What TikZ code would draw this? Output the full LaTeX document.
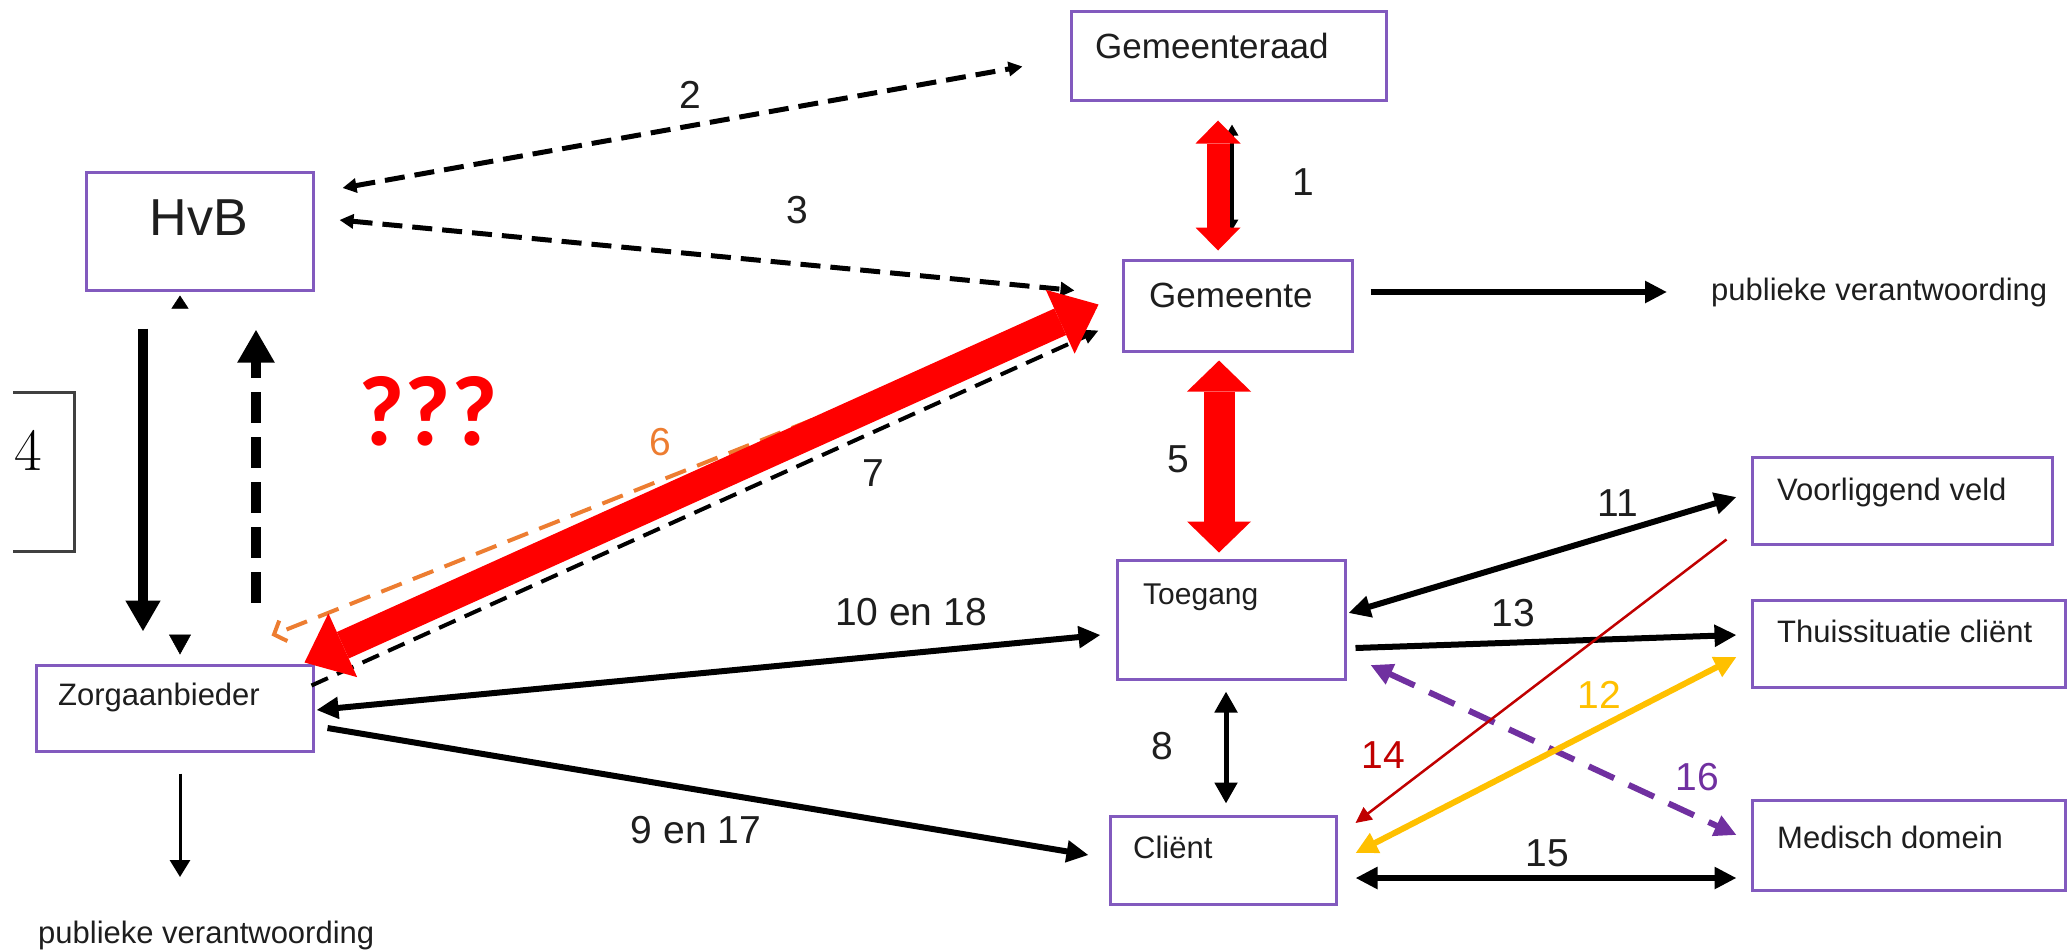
\documentclass[tikz,border=0pt]{standalone}
\usepackage{fontspec}
\usetikzlibrary{arrows.meta,calc}
\newfontfamily\arialf{Liberation Sans}
\newfontfamily\carl{Carlito}
\definecolor{boxc}{RGB}{130,90,190}
\definecolor{txtc}{RGB}{30,30,30}
\definecolor{orng}{RGB}{237,125,49}
\definecolor{ylw}{RGB}{255,192,0}
\definecolor{purp}{RGB}{112,48,160}
\definecolor{dred}{RGB}{192,0,0}
\definecolor{grayb}{RGB}{64,64,64}
\begin{document}
\begin{tikzpicture}[x=1pt,y=-1pt,
 box/.style={draw=boxc,line width=3pt,inner sep=0pt},
 lab/.style={font=\arialf\fontsize{31}{36}\selectfont,inner sep=0pt,anchor=base west,text=txtc},
 bigl/.style={font=\arialf\fontsize{35}{40}\selectfont},
 num/.style={font=\arialf\fontsize{39}{44}\selectfont,inner sep=0pt,text=txtc},
 one/.style={line width=6pt,-{Triangle[length=22pt,width=21pt]}},
 two/.style={line width=6pt,{Triangle[length=22pt,width=21pt]}-{Triangle[length=22pt,width=21pt]}},
 dsh/.style={line width=5pt,dash pattern=on 20pt off 10pt,{Triangle[length=14pt,width=14pt]}-{Triangle[length=14pt,width=14pt]}},
]
\useasboundingbox (0,0) rectangle (2068,951);

% boxes
\node[box,minimum width=315pt,minimum height=89pt] (graad) at (1228.5,55.5) {};
\node[box,minimum width=229pt,minimum height=91pt] (gem) at (1237.5,305.5) {};
\node[box,minimum width=227pt,minimum height=118pt] (hvb) at (199.5,231) {};
\node[box,minimum width=277pt,minimum height=86pt] (zorg) at (174.5,708) {};
\node[box,minimum width=228pt,minimum height=119pt] (toeg) at (1231,619.5) {};
\node[box,minimum width=226pt,minimum height=88pt] (client) at (1223,860) {};
\node[box,minimum width=300pt,minimum height=87pt] (voor) at (1902,500.5) {};
\node[box,minimum width=313pt,minimum height=87pt] (thuis) at (1908.5,643.5) {};
\node[box,minimum width=313pt,minimum height=90pt] (med) at (1908.5,845) {};

% box texts
\node[lab,bigl] (tgraad) at (1095,58) {Gemeenteraad};
\node[lab,bigl] (tgem) at (1149,307) {Gemeente};
\node[lab,font=\arialf\fontsize{52}{56}\selectfont,anchor=base] (thvb) at (199,235) {HvB};
\node[lab] (tzorg) at (58,705) {Zorgaanbieder};
\node[lab,font=\arialf\fontsize{30}{34}\selectfont] (ttoeg) at (1143,604) {Toegang};
\node[lab] (tclient) at (1133,858) {Cliënt};
\node[lab] (tvoor) at (1777,500) {Voorliggend veld};
\node[lab] (tthuis) at (1777,642) {Thuissituatie cliënt};
\node[lab] (tmed) at (1777,848) {Medisch domein};
\node[lab] (pv1) at (1711,300) {publieke verantwoording};
\node[lab] (pv2) at (38,943) {publieke verantwoording};

% numbers
\node[num] (n1) at (1303,182) {1};
\node[num] (n2) at (690,95) {2};
\node[num] (n3) at (797,210) {3};
\node[num] (n5) at (1178,459) {5};
\node[num,text=orng] (n6) at (660,442) {6};
\node[num] (n7) at (873,473) {7};
\node[num] (n8) at (1162,746) {8};
\node[num] (n917) at (696,830) {9 en 17};
\node[num] (n1018) at (911,612) {10 en 18};
\node[num] (n11) at (1618,503) {11};
\node[num,text=ylw] (n12) at (1599,695) {12};
\node[num] (n13) at (1513,613) {13};
\node[num,text=dred] (n14) at (1383,755) {14};
\node[num] (n15) at (1547,853) {15};
\node[num,text=purp] (n16) at (1697,777) {16};
\node[font=\rmfamily\fontsize{60}{64}\selectfont,inner sep=0pt,text=black] (n4) at (28,450) {4};
\node[font=\carl\bfseries\fontsize{100}{110}\selectfont,text=red,inner sep=0pt] (qqq) at (428,411) {???};

% helper coordinates
\coordinate (x1) at (1218,0);
\coordinate (x1b) at (1232,0);
\coordinate (x5) at (1219,0);
\coordinate (x8) at (1226,0);
\coordinate (x4a) at (143,0);
\coordinate (x4b) at (256,0);
\coordinate (x4c) at (180,0);
\coordinate (pvtip) at (180,877);
\coordinate (pv1tip) at (1667,292);

% bracket 4
\draw[grayb,line width=3pt] (13,392) -- (74,392) -- (74,551) -- (13,551);

% 1
\draw[line width=4pt,{Triangle[length=11pt,width=12pt]}-{Triangle[length=11pt,width=12pt]},shorten <=23pt,shorten >=28pt] (graad.south -| x1b) -- (gem.north -| x1b);
\draw[red,line width=23pt,{Triangle[length=23pt,width=45pt,line width=0pt]}-{Triangle[length=23pt,width=45pt,line width=0pt]},shorten <=19pt,shorten >=8pt] (graad.south -| x1) -- (gem.north -| x1);

% 5
\draw[red,line width=31pt,{Triangle[length=31pt,width=64pt,line width=0pt]}-{Triangle[length=31pt,width=64pt,line width=0pt]},shorten <=8pt,shorten >=6pt] (gem.south -| x5) -- (toeg.north -| x5);

% gemeente -> publieke verantwoording
\draw[one,shorten <=17pt] (gem.east |- pv1tip) -- (pv1tip);

% 2 and 3
\draw[dsh] ($(hvb.east)+(28,-43)$) -- ($(graad.west)+(-47,11)$);
\draw[dsh] ($(hvb.east)+(25,-11)$) -- ($(gem.west)+(-47,-15)$);

% 4
\draw[line width=10pt,-{Triangle[length=31pt,width=33pt]},shorten <=37pt,shorten >=32pt] (hvb.south -| x4a) -- (zorg.north -| x4a);
\draw[line width=10pt,dash pattern=on 31pt off 14pt,-{Triangle[length=33pt,width=35pt]},shorten <=61pt,shorten >=38pt] (zorg.north -| x4b) -- (hvb.south -| x4b);
\draw[white,line width=0.5pt,{Triangle[length=13pt,width=17pt,color=black]}-{Triangle[length=20pt,width=22pt,color=black]},shorten <=4pt,shorten >=9pt] (hvb.south -| x4c) -- (zorg.north -| x4c);

% 6, 7 and the red double arrow
\draw[orng,line width=4pt,dash pattern=on 22pt off 12pt,-{Straight Barb[length=10pt,width=22pt]}] ($(gem.west)+(-25,1)$) -- ($(zorg.north east)+(-43,-28)$);
\draw[line width=4pt,dash pattern=on 18pt off 10pt,-{Triangle[length=15pt,width=14pt]}] ($(zorg.north east)+(-3,22)$) -- ($(gem.west)+(-23,25)$);
\draw[red,line width=29pt,{Triangle[length=42pt,width=70pt,line width=0pt]}-{Triangle[length=42pt,width=70pt,line width=0pt]}] ($(zorg.north east)+(-10,-1)$) -- ($(gem.west)+(-23,-1)$);

% zorgaanbieder -> publieke verantwoording
\draw[line width=3pt,-{Triangle[length=17pt,width=20pt]},shorten <=21pt] (zorg.south -| pvtip) -- (pvtip);

% 10 en 18, 9 en 17
\draw[two] ($(zorg.east)+(2,2)$) -- ($(toeg.west)+(-15,15.5)$);
\draw[one] ($(zorg.east)+(13,20)$) -- ($(client.west)+(-20,-5)$);

% 8
\draw[line width=5pt,{Triangle[length=21pt,width=22pt]}-{Triangle[length=21pt,width=22pt]},shorten <=11pt,shorten >=11pt] (toeg.south -| x8) -- (client.north -| x8);

% right side
\draw[two] ($(toeg.east)+(2,-6.5)$) -- ($(voor.west)+(-14,-3.5)$);
\draw[one] ($(toeg.east)+(9,28.5)$) -- ($(thuis.west)+(-14,-8.5)$);
\draw[purp,line width=6pt,dash pattern=on 28pt off 16pt,{Triangle[length=22pt,width=21pt]}-{Triangle[length=22pt,width=21pt]}] ($(toeg.east)+(24,45.5)$) -- ($(med.west)+(-14,-10)$);
\draw[dred,line width=2.5pt,-{Triangle[length=16pt,width=15pt]}] ($(voor.south west)+(-24,-6)$) -- ($(client.east)+(18,-37)$);
\draw[ylw,two] ($(client.east)+(18,-7)$) -- ($(thuis.west)+(-14,13.5)$);
\draw[two] ($(client.east)+(18,18)$) -- ($(med.west)+(-14,33)$);

\end{tikzpicture}
\end{document}
